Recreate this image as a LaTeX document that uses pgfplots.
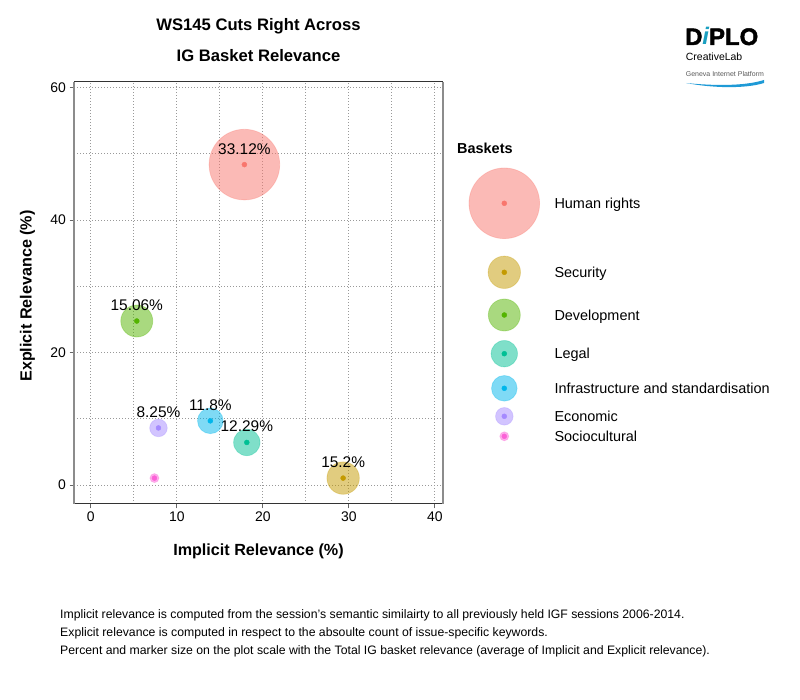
\documentclass[border=0pt]{standalone}
\usepackage{pgfplots}
\pgfplotsset{compat=1.18}
\usepackage{fontspec}
\setmainfont{Liberation Sans}
\newfontfamily\diplofont{Liberation Sans}[BoldFeatures={FakeBold=2}]
\definecolor{hr}{HTML}{F8766D}
\definecolor{sec}{HTML}{C49A00}
\definecolor{dev}{HTML}{53B400}
\definecolor{leg}{HTML}{00C094}
\definecolor{inf}{HTML}{00B6EB}
\definecolor{eco}{HTML}{A58AFF}
\definecolor{soc}{HTML}{FB61D7}
\definecolor{gipblue}{HTML}{1E9AD6}
\definecolor{diploteal}{HTML}{1A9FC0}
\newcommand\fs[1]{\fontsize{#1}{#1}\selectfont}
\pgfplotsset{
  bub/.style={only marks, mark=*, mark size=#1, mark options={fill opacity=0.5, draw opacity=0.3, line width=0.8bp}},
  dot/.style={only marks, mark=*, mark size=2.5bp, mark options={draw=none}},
  pct/.style={nodes near coords={#1}, every node near coord/.append style={anchor=base, yshift=10.5bp, text=black, font=\fs{15.5}, inner sep=0pt}},
  lgd/.style={nodes near coords={#1}, every node near coord/.append style={anchor=base west, xshift=50bp, yshift=-5.2bp, text=black, font=\fs{14.5}, inner sep=0pt}},
}
\begin{document}
\begin{tikzpicture}
\useasboundingbox (0,0) rectangle (800bp,700bp);
\begin{axis}[
  at={(74bp,196bp)}, anchor=south west,
  width=369bp, height=422bp, scale only axis,
  xmin=-1.95, xmax=40.95, ymin=-2.85, ymax=60.85,
  xtick={0,10,20,30,40}, ytick={0,20,40,60},
  minor xtick={5,15,25,35}, minor ytick={10,30,50},
  grid=both,
  major grid style={gray!80, dash pattern=on 1.2bp off 1.8bp, line width=0.8bp},
  minor grid style={gray!80, dash pattern=on 1.2bp off 1.8bp, line width=0.8bp},
  tick align=outside, major tick length=4.5bp, minor tick length=0pt,
  tick style={black!60, line width=0.8bp},
  xtick pos=left, ytick pos=left,
  separate axis lines,
  x axis line style={black!80, line width=1bp},
  y axis line style={black!45, line width=1.2bp},
  /pgf/number format/assume math mode=true,
  tick label style={font=\fs{14}, text=black},
  xlabel={Implicit Relevance (\%)},
  ylabel={Explicit Relevance (\%)},
  every axis x label/.style={at={([yshift=-52bp]axis description cs:0.5,0)}, anchor=base, font=\bfseries\fs{16.2}},
  every axis y label/.style={at={([xshift=-42.3bp, yshift=-3bp]axis description cs:0,0.5)}, rotate=90, anchor=base, font=\bfseries\fs{16.2}},
  clip=false,
]
% Human rights
\addplot[bub=35.3bp, color=hr] coordinates {(17.86,48.38)};
\addplot[dot, color=hr, pct={33.12\%}] coordinates {(17.86,48.38)};
% Security
\addplot[bub=16.2bp, color=sec] coordinates {(29.34,1.06)};
\addplot[dot, color=sec, pct={15.2\%}] coordinates {(29.34,1.06)};
% Development
\addplot[bub=16.0bp, color=dev] coordinates {(5.35,24.77)};
\addplot[dot, color=dev, pct={15.06\%}] coordinates {(5.35,24.77)};
% Legal
\addplot[bub=13.2bp, color=leg] coordinates {(18.14,6.44)};
\addplot[dot, color=leg, pct={12.29\%}] coordinates {(18.14,6.44)};
% Infrastructure
\addplot[bub=12.8bp, color=inf] coordinates {(13.90,9.70)};
\addplot[dot, color=inf, pct={11.8\%}] coordinates {(13.90,9.70)};
% Economic
\addplot[bub=8.8bp, color=eco] coordinates {(7.87,8.63)};
\addplot[dot, color=eco, pct={8.25\%}] coordinates {(7.87,8.63)};
% Sociocultural
\addplot[bub=4.5bp, color=soc] coordinates {(7.40,1.06)};
\addplot[dot, color=soc] coordinates {(7.40,1.06)};
\end{axis}

% legend drawn in a pixel-coordinate helper axis
\begin{axis}[
  at={(0bp,0bp)}, anchor=south west,
  width=800bp, height=700bp, scale only axis,
  xmin=0, xmax=800, ymin=0, ymax=700,
  hide axis, clip=false,
]
\addplot[bub=35.3bp, color=hr] coordinates {(504.3,496.7)};
\addplot[dot, color=hr, lgd={Human rights}] coordinates {(504.3,496.7)};
\addplot[bub=16.2bp, color=sec] coordinates {(504.3,427.7)};
\addplot[dot, color=sec, lgd={Security}] coordinates {(504.3,427.7)};
\addplot[bub=16.0bp, color=dev] coordinates {(504.3,385.0)};
\addplot[dot, color=dev, lgd={Development}] coordinates {(504.3,385.0)};
\addplot[bub=13.2bp, color=leg] coordinates {(504.3,346.3)};
\addplot[dot, color=leg, lgd={Legal}] coordinates {(504.3,346.3)};
\addplot[bub=12.8bp, color=inf] coordinates {(504.3,311.7)};
\addplot[dot, color=inf, lgd={Infrastructure and standardisation}] coordinates {(504.3,311.7)};
\addplot[bub=8.8bp, color=eco] coordinates {(504.3,283.7)};
\addplot[dot, color=eco, lgd={Economic}] coordinates {(504.3,283.7)};
\addplot[bub=4.5bp, color=soc] coordinates {(504.3,263.7)};
\addplot[dot, color=soc, lgd={Sociocultural}] coordinates {(504.3,263.7)};
\end{axis}

% titles
\node[anchor=base, font=\bfseries\fs{16.7}, inner sep=0pt] at (258.5bp,669bp) {WS145 Cuts Right Across};
\node[anchor=base, font=\bfseries\fs{16.7}, inner sep=0pt] at (258.5bp,638.3bp) {IG Basket Relevance};
\node[anchor=base west, font=\bfseries\fs{14.5}, inner sep=0pt] at (457bp,546.5bp) {Baskets};

% logo
\node[anchor=base west, inner sep=0pt, font=\diplofont\bfseries\fs{24}] at (685bp,655bp) {D{\color{diploteal}\itshape i}PLO};
\node[anchor=base west, inner sep=0pt, font=\fs{10.5}] at (685.7bp,639.3bp) {CreativeLab};
\node[anchor=base west, inner sep=0pt, font=\fs{7}, text=black!65] at (685.7bp,623.3bp) {Geneva Internet Platform};
\fill[gipblue] (686bp,617bp) .. controls (715bp,614bp) and (745bp,614bp) .. (764bp,620bp)
  -- (764bp,617bp) .. controls (745bp,611bp) and (712bp,612bp) .. (686bp,617bp) -- cycle;

% footnote
\node[anchor=base west, inner sep=0pt, font=\fs{12.3}] at (60bp,81bp) {Implicit relevance is computed from the session's semantic similairty to all previously held IGF sessions 2006-2014.};
\node[anchor=base west, inner sep=0pt, font=\fs{12.3}] at (60bp,63bp) {Explicit relevance is computed in respect to the absoulte count of issue-specific keywords.};
\node[anchor=base west, inner sep=0pt, font=\fs{12.3}] at (60bp,45bp) {Percent and marker size on the plot scale with the Total IG basket relevance (average of Implicit and Explicit relevance).};
\end{tikzpicture}
\end{document}
